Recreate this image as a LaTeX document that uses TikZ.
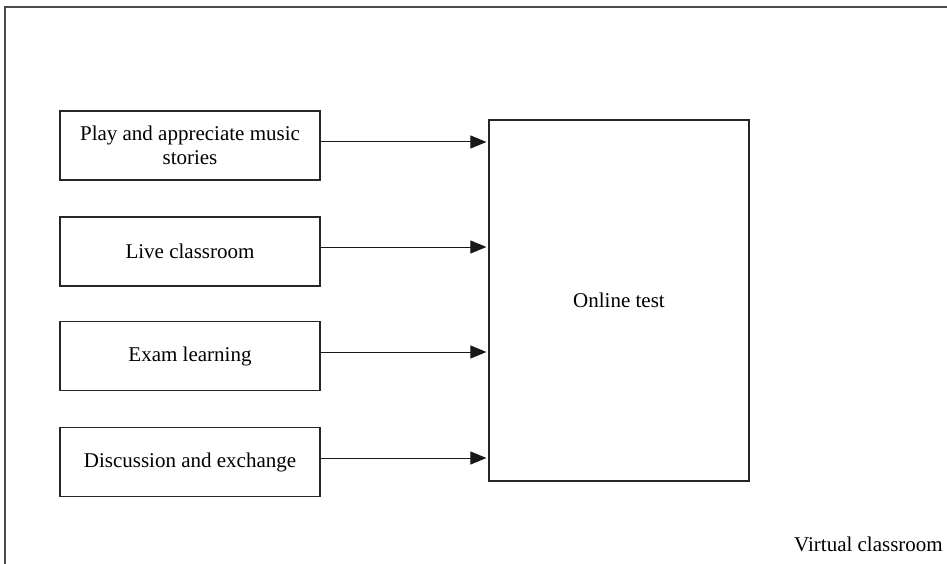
\documentclass[tikz,border=0pt]{standalone}
\usepackage{fontspec}
\setmainfont{Liberation Serif}
\usetikzlibrary{arrows.meta}

\begin{document}
\begin{tikzpicture}[x=1pt,y=-1pt,
    sbox/.style={draw=black!85, line width=1.2pt, minimum width=260pt, minimum height=69pt, inner sep=2pt, align=center, font=\fontsize{21}{24}\selectfont},
    tbox/.style={draw=black!85, line width=1.2pt, minimum width=260pt, minimum height=361pt, font=\fontsize{21}{24}\selectfont},
    feed/.style={-{Triangle[length=16pt,width=13pt]}, line width=1pt, black!90}]
    \useasboundingbox (0,0) rectangle (947,564);
    \draw[black!70, line width=1.2pt] (5,580) -- (5,7) -- (960,7);

    \node[sbox] (play) at (190,145.5) {Play and appreciate music\\stories};
    \node[sbox] (live) at (190,251.5) {Live classroom};
    \node[sbox] (exam) at (190,356) {Exam learning};
    \node[sbox] (disc) at (190,462) {Discussion and exchange};
    \node[tbox] (test) at (619,300.5) {Online test};
    \node[anchor=base east, inner sep=0pt, font=\fontsize{21}{24}\selectfont] (virt) at (943,551) {Virtual classroom};

    \draw[feed] (play.east) ++(0,-3.5) coordinate (p1) -- ([xshift=-2pt]p1 -| test.west);
    \draw[feed] (live.east) ++(0,-4.5) coordinate (p2) -- ([xshift=-2pt]p2 -| test.west);
    \draw[feed] (exam.east) ++(0,-4) coordinate (p3) -- ([xshift=-2pt]p3 -| test.west);
    \draw[feed] (disc.east) ++(0,-4) coordinate (p4) -- ([xshift=-2pt]p4 -| test.west);
\end{tikzpicture}
\end{document}
